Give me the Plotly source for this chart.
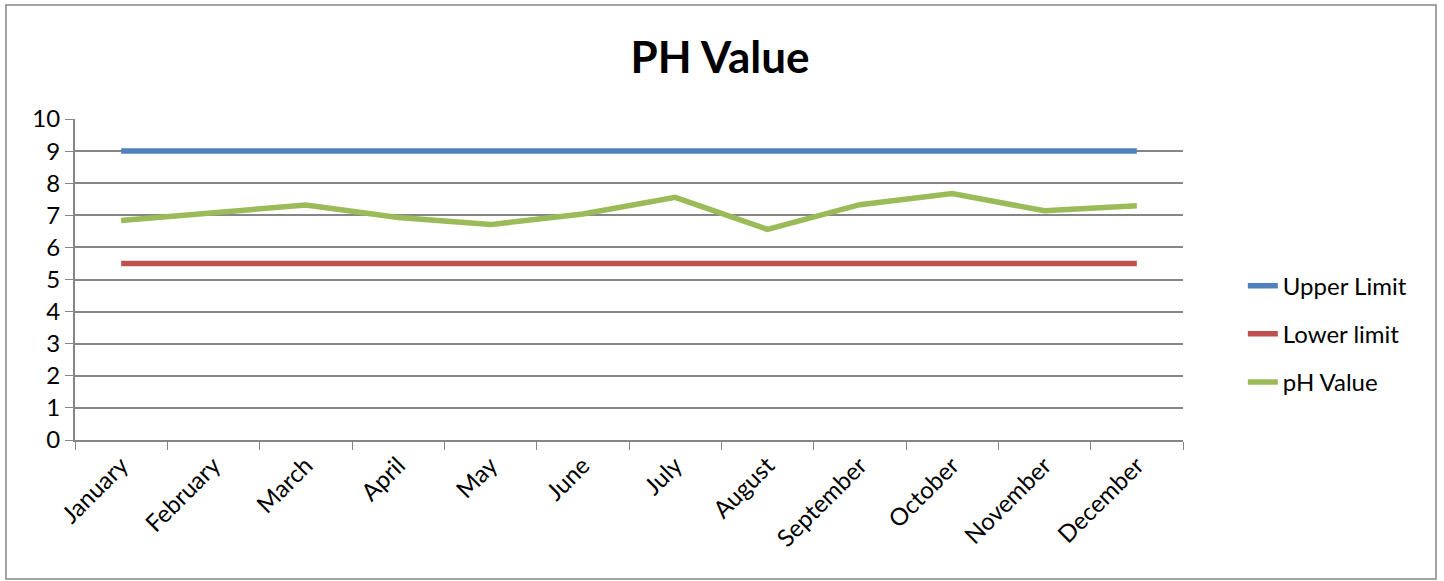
import plotly.graph_objects as go

months = ["January", "February", "March", "April", "May", "June", "July",
          "August", "September", "October", "November", "December"]
upper_limit = [9, 9, 9, 9, 9, 9, 9, 9, 9, 9, 9, 9]
lower_limit = [5.5, 5.5, 5.5, 5.5, 5.5, 5.5, 5.5, 5.5, 5.5, 5.5, 5.5, 5.5]
ph_value = [6.84, 7.07, 7.32, 6.93, 6.71, 7.04, 7.56, 6.56, 7.33, 7.68, 7.14, 7.30]

FONT = "Lato"
fig = go.Figure()
fig.add_trace(go.Scatter(x=months, y=upper_limit, name="Upper Limit", mode="lines",
                         line=dict(color="#4F81BD", width=5.5), legendgroup="a"))
fig.add_trace(go.Scatter(x=months, y=lower_limit, name="Lower limit", mode="lines",
                         line=dict(color="#C0504D", width=5.5), legendgroup="b"))
fig.add_trace(go.Scatter(x=months, y=ph_value, name="pH Value", mode="lines",
                         line=dict(color="#9BBB59", width=5.5), legendgroup="c"))

fig.update_layout(
    width=1444, height=581,
    margin=dict(l=75, r=261, t=119, b=141),
    paper_bgcolor="white", plot_bgcolor="white",
    font=dict(family=FONT, size=24, color="black"),
    title=dict(text="<b>PH Value</b>", x=720 / 1444, xref="container", xanchor="center",
               y=1 - 58 / 581, yref="container", yanchor="middle",
               font=dict(family=FONT, size=44, color="black")),
    legend=dict(x=1.054, xanchor="left", y=0.33, yanchor="middle",
                font=dict(family=FONT, size=24), tracegroupgap=14,
                bgcolor="rgba(0,0,0,0)"),
    xaxis=dict(type="category", tickson="boundaries", ticks="outside", ticklen=8,
               tickcolor="#868686", showline=True, linecolor="#868686", linewidth=2,
               showgrid=False, tickangle=-45, tickfont=dict(family=FONT, size=24),
               range=[-0.5, 11.5]),
    yaxis=dict(range=[0, 10], dtick=1, ticks="outside", ticklen=8, tickcolor="#868686",
               showline=True, linecolor="#868686", linewidth=2,
               showgrid=True, gridcolor="#868686", gridwidth=2,
               tickfont=dict(family=FONT, size=24), zeroline=False),
    showlegend=True,
)
fig.add_shape(type="rect", xref="paper", yref="paper",
              x0=(6 - 75) / 1108, x1=(1436 - 75) / 1108,
              y0=(440 - 579) / 321, y1=(440 - 5) / 321,
              line=dict(color="#868686", width=1.5), layer="below")
fig.write_html("out.html", config={"displayModeBar": False},
               post_script="document.body.style.margin='0';document.body.style.overflow='hidden';")
